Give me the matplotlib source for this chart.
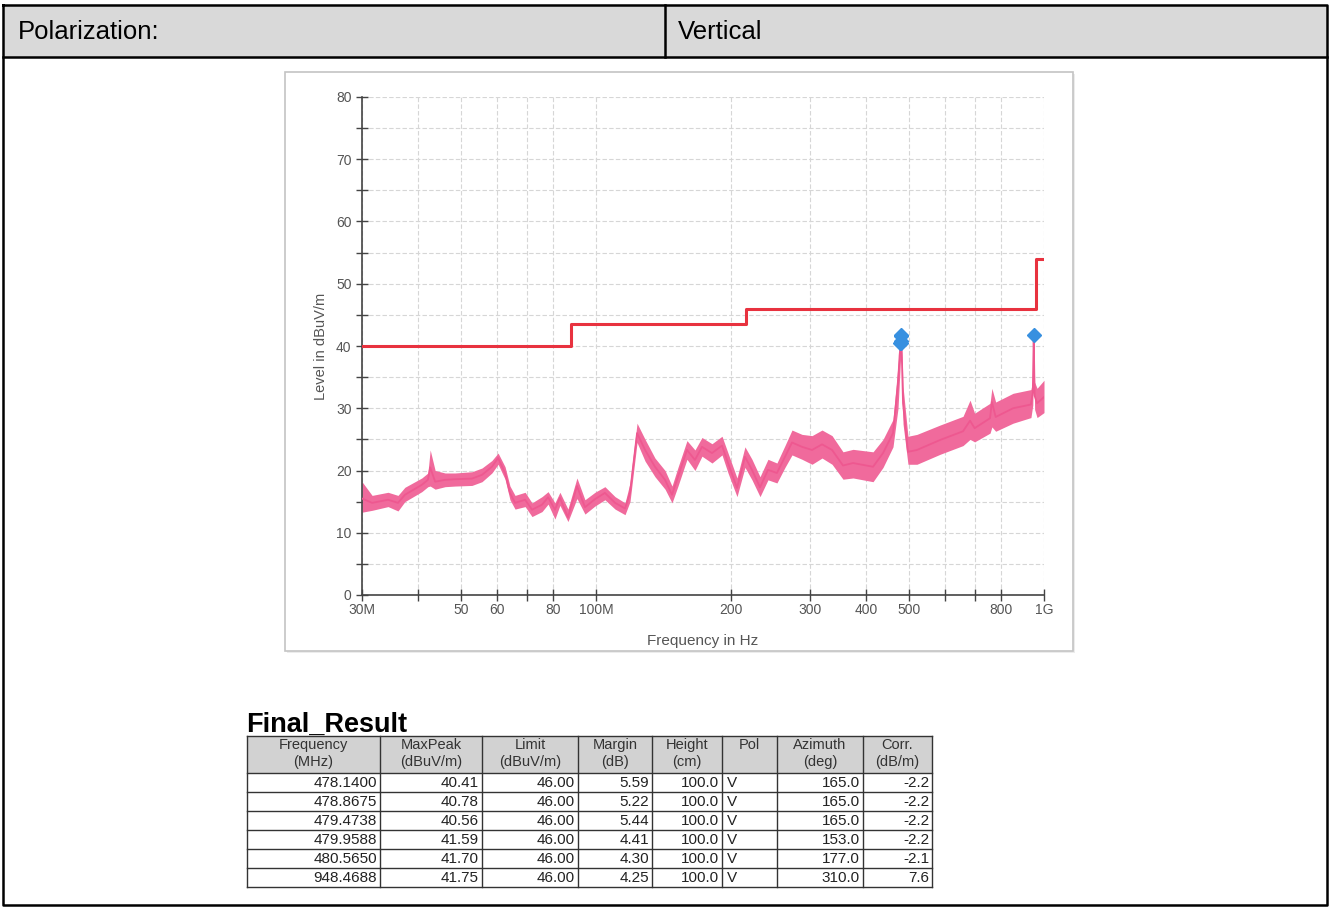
import matplotlib
matplotlib.use("Agg")
import matplotlib.pyplot as plt
from matplotlib.patches import Rectangle
from matplotlib.ticker import FixedLocator, NullFormatter

plt.rcParams['font.family'] = ['Liberation Sans', 'DejaVu Sans']

# spectrum trace (MHz, dBuV/m): centre line plus lower / upper edge of the noise band
trace_freq = [30.0, 31.6, 34.3, 36.1, 37.4, 40.8, 42.1, 42.6, 43.7, 46.0, 48.4, 52.8,
              55.6, 58.5, 60.4, 62.6, 64.2, 65.9, 69.4, 71.9, 75.7, 78.1, 80.9, 83.0,
              86.5, 90.6, 94.4, 99.4, 104.6, 110.2, 116.0, 119.0, 123.4, 128.6, 135.3,
              142.5, 147.7, 152.3, 159.5, 166.2, 172.3, 181.4, 191.0, 197.0, 206.3,
              214.9, 222.8, 232.2, 241.9, 253.3, 264.0, 273.7, 288.2, 303.4, 319.4,
              336.3, 355.8, 374.6, 415.2, 437.1, 460.1, 472.1, 476.0, 479.5, 482.0,
              484.4, 496.9, 520.4, 586.0, 659.4, 683.7, 700.0, 757.7, 765.0, 780.0,
              853.0, 935.0, 944.0, 948.5, 953.0, 965.0, 1000.0]
trace_mid = [15.5, 14.8, 15.3, 14.8, 16.1, 17.7, 18.5, 20.5, 18.2, 18.5, 18.6, 18.7,
             19.3, 20.6, 22.0, 19.6, 16.4, 14.8, 15.3, 13.7, 14.5, 15.7, 13.7, 15.6,
             12.5, 17.5, 14.1, 15.4, 16.4, 14.8, 13.9, 16.4, 26.0, 23.3, 20.6,
             18.5, 16.1, 19.0, 23.3, 21.7, 23.8, 22.8, 24.0, 21.2, 17.2,
             22.2, 20.1, 17.3, 20.1, 19.6, 22.2, 24.5, 23.8, 23.3, 24.2,
             23.3, 20.8, 21.2, 20.6, 22.8, 26.0, 34.0, 38.5, 41.0, 37.0,
             30.8, 23.0, 23.3, 24.9, 26.3, 28.0, 26.8, 28.4, 31.0, 28.6,
             30.0, 30.6, 32.5, 41.5, 32.0, 30.8, 31.8]
trace_lo = [13.3, 13.6, 14.2, 13.5, 15.0, 16.6, 17.4, 17.5, 17.0, 17.4, 17.5, 17.6,
            18.2, 19.6, 21.0, 18.6, 15.3, 13.8, 14.2, 12.6, 13.4, 14.6, 12.2, 14.4,
            11.8, 15.5, 13.0, 14.3, 15.3, 13.8, 12.9, 15.0, 24.5, 21.5, 19.0,
            17.0, 14.8, 17.5, 21.8, 20.0, 22.3, 21.2, 22.5, 19.6, 15.8,
            20.5, 18.5, 15.8, 18.5, 18.0, 20.5, 22.5, 21.8, 21.0, 22.0,
            21.0, 18.6, 18.8, 18.2, 20.5, 23.8, 30.0, 35.0, 39.5, 33.0,
            27.5, 21.0, 21.0, 22.6, 24.0, 25.0, 24.6, 26.0, 27.0, 26.3,
            27.6, 28.5, 30.5, 38.0, 29.8, 28.5, 29.3]
trace_hi = [18.2, 16.0, 16.5, 16.0, 17.3, 18.8, 19.6, 23.3, 20.0, 19.6, 19.6, 19.8,
            20.4, 21.6, 22.8, 20.6, 17.5, 16.0, 16.5, 14.8, 15.8, 16.6, 14.8, 16.5,
            13.8, 18.8, 15.3, 16.5, 17.4, 15.8, 14.8, 18.0, 27.6, 25.0, 22.0,
            20.0, 17.5, 20.5, 24.8, 23.3, 25.3, 24.3, 25.5, 22.8, 18.8,
            23.8, 21.8, 19.0, 21.8, 21.2, 24.0, 26.5, 25.8, 25.6, 26.5,
            25.6, 23.0, 23.4, 23.0, 25.0, 28.2, 37.0, 40.0, 41.5, 39.0,
            33.5, 25.5, 25.8, 27.3, 28.7, 31.3, 29.2, 30.8, 33.2, 31.0,
            32.4, 33.0, 34.5, 42.0, 34.2, 33.2, 34.5]

# limit line (step after each corner frequency)
limit_freq = [30, 88, 216, 960, 1000]
limit_level = [40.0, 43.5, 46.0, 54.0, 54.0]

# final result table
res_freq = [478.1400, 478.8675, 479.4738, 479.9588, 480.5650, 948.4688]
res_peak = [40.41, 40.78, 40.56, 41.59, 41.70, 41.75]
res_limit = [46.00, 46.00, 46.00, 46.00, 46.00, 46.00]
res_margin = [5.59, 5.22, 5.44, 4.41, 4.30, 4.25]
res_height = [100.0, 100.0, 100.0, 100.0, 100.0, 100.0]
res_pol = ['V', 'V', 'V', 'V', 'V', 'V']
res_azimuth = [165.0, 165.0, 165.0, 153.0, 177.0, 310.0]
res_corr = [-2.2, -2.2, -2.2, -2.2, -2.1, 7.6]

col_heads = ['Frequency\n(MHz)', 'MaxPeak\n(dBuV/m)', 'Limit\n(dBuV/m)', 'Margin\n(dB)',
             'Height\n(cm)', 'Pol\n', 'Azimuth\n(deg)', 'Corr.\n(dB/m)']

major_ticks = [30, 50, 60, 80, 100, 200, 300, 400, 500, 800, 1000]
major_labels = ['30M', '50', '60', '80', '100M', '200', '300', '400', '500', '800', '1G']
minor_ticks = [40, 70, 600, 700]

W, H = 1330, 908
fig = plt.figure(figsize=(W / 100, H / 100), dpi=100)

# page layer in pixel coordinates
pg = fig.add_axes([0, 0, 1, 1])
pg.set_xlim(0, W)
pg.set_ylim(H, 0)
pg.axis('off')

pg.add_patch(Rectangle((3, 5), 1324, 52, facecolor='#d9d9d9', edgecolor='none'))
pg.plot([3, 1327, 1327, 3, 3], [5, 5, 905, 905, 5], color='black', lw=1.8)
pg.plot([3, 1327], [57, 57], color='black', lw=1.8)
pg.plot([665, 665], [5, 57], color='black', lw=1.8)
pg.text(18, 32, 'Polarization:', fontsize=18.5, va='center', ha='left', color='black')
pg.text(678, 32, 'Vertical', fontsize=18.5, va='center', ha='left', color='black')

# chart frame
pg.add_patch(Rectangle((287, 74), 788, 579, facecolor='#ececec', edgecolor='none'))
pg.add_patch(Rectangle((285, 72), 788, 579, facecolor='white', edgecolor='#c4c4c4', lw=1.2))

# table
col_x = [247, 380, 482, 578, 652, 722, 777, 863, 932]
head_top, head_bot, row_h = 736, 773, 19
pg.text(246, 732, 'Final_Result', fontsize=19.5, fontweight='bold', ha='left', va='baseline')
pg.add_patch(Rectangle((col_x[0], head_top), col_x[-1] - col_x[0], head_bot - head_top,
                       facecolor='#d2d2d2', edgecolor='none'))
n_rows = len(res_freq)
tab_bot = head_bot + n_rows * row_h
for x in col_x:
    pg.plot([x, x], [head_top, tab_bot], color='#333333', lw=1.0)
for y in [head_top, head_bot] + [head_bot + (i + 1) * row_h for i in range(n_rows)]:
    pg.plot([col_x[0], col_x[-1]], [y, y], color='#333333', lw=1.0)
for j, head in enumerate(col_heads):
    pg.text((col_x[j] + col_x[j + 1]) / 2, head_top + 2, head, fontsize=10.5, ha='center',
            va='top', color='#333333', linespacing=1.3)

rows = list(zip(res_freq, res_peak, res_limit, res_margin, res_height, res_pol,
                res_azimuth, res_corr))
fmts = ['{:.4f}', '{:.2f}', '{:.2f}', '{:.2f}', '{:.1f}', '{}', '{:.1f}', '{:.1f}']
for i, row in enumerate(rows):
    yc = head_bot + i * row_h + row_h / 2 + 0.5
    for j, val in enumerate(row):
        s = fmts[j].format(val)
        if j == 5:
            pg.text(col_x[j] + 5, yc, s, fontsize=11, ha='left', va='center', color='#222222')
        else:
            pg.text(col_x[j + 1] - 3, yc, s, fontsize=11, ha='right', va='center',
                    color='#222222')

# spectrum plot
ax = fig.add_axes([362 / W, 1 - 595 / H, 682 / W, 498 / H])
ax.set_facecolor('none')
ax.set_xscale('log')
ax.set_xlim(30, 1000)
ax.set_ylim(0, 80)

ax.fill_between(trace_freq, trace_lo, trace_hi, color='#f06a9c', lw=0, zorder=2)
ax.plot(trace_freq, trace_mid, color='#ee5890', lw=1.3, zorder=3)
ax.step(limit_freq, limit_level, where='post', color='#e8323f', lw=2.2, zorder=4)
ax.plot(res_freq, res_peak, linestyle='none', marker='D', ms=7.5, color='#3790e0',
        markeredgecolor='#3790e0', zorder=5)

ax.xaxis.set_major_locator(FixedLocator(major_ticks))
ax.xaxis.set_minor_locator(FixedLocator(minor_ticks))
ax.set_xticklabels(major_labels)
ax.xaxis.set_minor_formatter(NullFormatter())
ax.set_yticks(range(0, 81, 10))
ax.set_yticks(range(5, 80, 10), minor=True)

ax.grid(True, which='both', color='#d6d6d6', linestyle=(0, (4, 2)), lw=0.8)
ax.set_axisbelow(True)
for side in ['top', 'right']:
    ax.spines[side].set_visible(False)
for side in ['left', 'bottom']:
    ax.spines[side].set_color('#444444')
    ax.spines[side].set_linewidth(1.2)
ax.tick_params(which='both', direction='inout', length=8, width=1, color='#444444',
               labelsize=10, labelcolor='#555555')
ax.tick_params(axis='x', pad=2)

ax.set_xlabel('Frequency in Hz', fontsize=11, color='#555555', labelpad=12)
ax.set_ylabel('Level in dBuV/m', fontsize=10.5, color='#555555', labelpad=6)

fig.savefig('out.png', dpi=100)
